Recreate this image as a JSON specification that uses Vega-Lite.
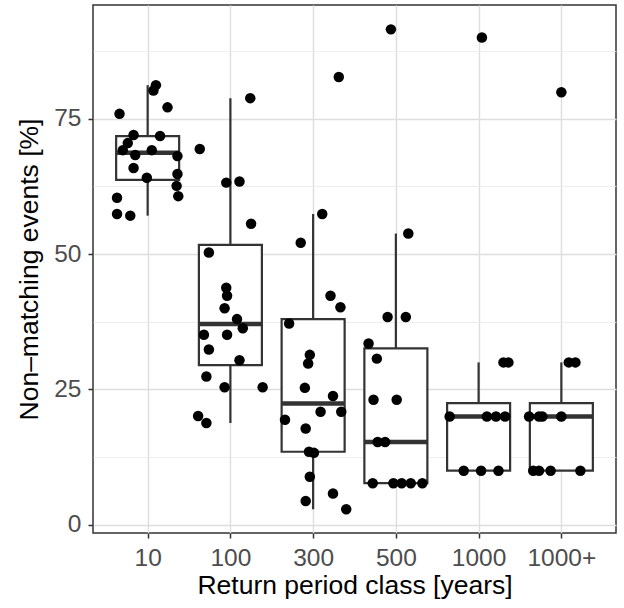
{
  "$schema": "https://vega.github.io/schema/vega-lite/v6.json",
  "width": 523,
  "height": 528,
  "autosize": {"type": "none"},
  "padding": {"left": 93, "top": 5, "right": 8, "bottom": 75},
  "background": "white",
  "config": {
    "view": {"stroke": "#333333", "strokeWidth": 1.5},
    "font": "Liberation Sans",
    "axis": {
      "domain": false,
      "labelFont": "Liberation Sans",
      "titleFont": "Liberation Sans",
      "labelColor": "#4D4D4D",
      "titleColor": "#000000",
      "titleFontWeight": "normal",
      "tickColor": "#333333",
      "tickSize": 5,
      "tickWidth": 1.5,
      "labelFontSize": 24.5,
      "titleFontSize": 26.5,
      "gridColor": "#DEDEDE",
      "gridWidth": 1.4
    }
  },
  "datasets": {
    "box": [
      {"cls": 1, "lo": 57.1, "q1": 63.7, "med": 68.7, "q3": 71.8, "hi": 81.2},
      {"cls": 2, "lo": 18.8, "q1": 29.5, "med": 37.1, "q3": 51.7, "hi": 78.8},
      {"cls": 3, "lo": 2.9, "q1": 13.5, "med": 22.4, "q3": 38.0, "hi": 57.4},
      {"cls": 4, "lo": 7.7, "q1": 7.7, "med": 15.3, "q3": 32.6, "hi": 53.8},
      {"cls": 5, "lo": 10, "q1": 10, "med": 20, "q3": 22.5, "hi": 30},
      {"cls": 6, "lo": 10, "q1": 10, "med": 20, "q3": 22.5, "hi": 30}
    ],
    "pts": [
      {"cls": "10", "jx": 1.10, "v": 81.2},
      {"cls": "10", "jx": 1.07, "v": 80.2},
      {"cls": "10", "jx": 1.24, "v": 77.1},
      {"cls": "10", "jx": 0.66, "v": 75.9},
      {"cls": "10", "jx": 0.83, "v": 72.0},
      {"cls": "10", "jx": 1.15, "v": 71.8},
      {"cls": "10", "jx": 0.76, "v": 70.5},
      {"cls": "10", "jx": 0.70, "v": 69.2},
      {"cls": "10", "jx": 1.05, "v": 69.2},
      {"cls": "10", "jx": 0.85, "v": 68.3},
      {"cls": "10", "jx": 1.36, "v": 68.1},
      {"cls": "10", "jx": 0.83, "v": 65.9},
      {"cls": "10", "jx": 1.36, "v": 64.8},
      {"cls": "10", "jx": 0.99, "v": 64.1},
      {"cls": "10", "jx": 1.35, "v": 62.6},
      {"cls": "10", "jx": 1.37, "v": 60.7},
      {"cls": "10", "jx": 0.63, "v": 60.4},
      {"cls": "10", "jx": 0.63, "v": 57.4},
      {"cls": "10", "jx": 0.79, "v": 57.1},
      {"cls": "100", "jx": 2.24, "v": 78.8},
      {"cls": "100", "jx": 1.63, "v": 69.4},
      {"cls": "100", "jx": 1.95, "v": 63.2},
      {"cls": "100", "jx": 2.11, "v": 63.4},
      {"cls": "100", "jx": 2.25, "v": 55.6},
      {"cls": "100", "jx": 1.74, "v": 50.3},
      {"cls": "100", "jx": 1.95, "v": 43.8},
      {"cls": "100", "jx": 1.96, "v": 42.3},
      {"cls": "100", "jx": 1.93, "v": 40.0},
      {"cls": "100", "jx": 2.08, "v": 38.0},
      {"cls": "100", "jx": 2.15, "v": 36.3},
      {"cls": "100", "jx": 1.68, "v": 35.1},
      {"cls": "100", "jx": 1.96, "v": 35.1},
      {"cls": "100", "jx": 1.74, "v": 32.4},
      {"cls": "100", "jx": 2.11, "v": 30.4},
      {"cls": "100", "jx": 1.71, "v": 27.4},
      {"cls": "100", "jx": 1.93, "v": 25.4},
      {"cls": "100", "jx": 2.39, "v": 25.4},
      {"cls": "100", "jx": 1.61, "v": 20.1},
      {"cls": "100", "jx": 1.71, "v": 18.8},
      {"cls": "300", "jx": 3.31, "v": 82.7},
      {"cls": "300", "jx": 3.11, "v": 57.4},
      {"cls": "300", "jx": 2.85, "v": 52.1},
      {"cls": "300", "jx": 3.21, "v": 42.3},
      {"cls": "300", "jx": 3.33, "v": 40.2},
      {"cls": "300", "jx": 2.71, "v": 37.2},
      {"cls": "300", "jx": 2.96, "v": 31.4},
      {"cls": "300", "jx": 2.94, "v": 29.8},
      {"cls": "300", "jx": 2.90, "v": 25.3},
      {"cls": "300", "jx": 3.24, "v": 23.8},
      {"cls": "300", "jx": 3.09, "v": 20.9},
      {"cls": "300", "jx": 3.34, "v": 20.9},
      {"cls": "300", "jx": 2.66, "v": 19.4},
      {"cls": "300", "jx": 2.91, "v": 17.8},
      {"cls": "300", "jx": 2.95, "v": 13.5},
      {"cls": "300", "jx": 3.01, "v": 13.3},
      {"cls": "300", "jx": 2.96, "v": 8.9},
      {"cls": "300", "jx": 3.24, "v": 5.8},
      {"cls": "300", "jx": 2.91, "v": 4.4},
      {"cls": "300", "jx": 3.40, "v": 2.9},
      {"cls": "500", "jx": 3.94, "v": 91.5},
      {"cls": "500", "jx": 4.15, "v": 53.8},
      {"cls": "500", "jx": 3.90, "v": 38.4},
      {"cls": "500", "jx": 4.12, "v": 38.4},
      {"cls": "500", "jx": 3.67, "v": 33.5},
      {"cls": "500", "jx": 3.77, "v": 30.7},
      {"cls": "500", "jx": 3.73, "v": 23.1},
      {"cls": "500", "jx": 4.01, "v": 23.1},
      {"cls": "500", "jx": 3.78, "v": 15.3},
      {"cls": "500", "jx": 3.87, "v": 15.3},
      {"cls": "500", "jx": 3.72, "v": 7.7},
      {"cls": "500", "jx": 3.97, "v": 7.7},
      {"cls": "500", "jx": 4.07, "v": 7.7},
      {"cls": "500", "jx": 4.18, "v": 7.7},
      {"cls": "500", "jx": 4.32, "v": 7.7},
      {"cls": "1000", "jx": 5.04, "v": 90.0},
      {"cls": "1000", "jx": 5.30, "v": 30},
      {"cls": "1000", "jx": 5.36, "v": 30},
      {"cls": "1000", "jx": 4.65, "v": 20},
      {"cls": "1000", "jx": 5.10, "v": 20},
      {"cls": "1000", "jx": 5.21, "v": 20},
      {"cls": "1000", "jx": 5.32, "v": 20},
      {"cls": "1000", "jx": 4.82, "v": 10},
      {"cls": "1000", "jx": 5.03, "v": 10},
      {"cls": "1000", "jx": 5.24, "v": 10},
      {"cls": "1000+", "jx": 6.00, "v": 79.9},
      {"cls": "1000+", "jx": 6.09, "v": 30},
      {"cls": "1000+", "jx": 6.17, "v": 30},
      {"cls": "1000+", "jx": 5.61, "v": 20},
      {"cls": "1000+", "jx": 5.73, "v": 20},
      {"cls": "1000+", "jx": 5.77, "v": 20},
      {"cls": "1000+", "jx": 6.00, "v": 20},
      {"cls": "1000+", "jx": 5.66, "v": 10},
      {"cls": "1000+", "jx": 5.73, "v": 10},
      {"cls": "1000+", "jx": 5.87, "v": 10},
      {"cls": "1000+", "jx": 6.23, "v": 10}
    ]
  },
  "layer": [
    {
      "data": {"name": "box"},
      "mark": {"type": "rule", "color": "#333333", "strokeWidth": 2.2},
      "encoding": {
        "x": {
          "field": "cls", "type": "quantitative",
          "scale": {"domain": [0.4, 6.6], "nice": false, "zero": false},
          "axis": {
            "title": "Return period class [years]",
            "values": [1, 2, 3, 4, 5, 6],
            "labelExpr": "['', '10', '100', '300', '500', '1000', '1000+'][datum.value]",
            "labelPadding": 8,
            "titlePadding": 3,
            "labelFlush": false,
            "labelOverlap": false
          }
        },
        "y": {
          "field": "lo", "type": "quantitative",
          "scale": {"domain": [-1.5, 96], "nice": false, "zero": false},
          "axis": {
            "title": "Non–matching events [%]",
            "values": [0, 12.5, 25, 37.5, 50, 62.5, 75, 87.5],
            "labelExpr": "datum.value % 25 === 0 ? datum.label : ''",
            "tickOpacity": {"condition": {"test": "datum.value % 25 === 0", "value": 1}, "value": 0},
            "gridWidth": {"condition": {"test": "datum.value % 25 === 0", "value": 1.4}, "value": 0.8},
            "gridColor": {"condition": {"test": "datum.value % 25 === 0", "value": "#DEDEDE"}, "value": "#EAEAEA"},
            "labelPadding": 7,
            "titlePadding": 10,
            "labelFlush": false,
            "labelOverlap": false
          }
        },
        "y2": {"field": "hi"}
      }
    },
    {
      "data": {"name": "box"},
      "mark": {"type": "bar", "width": 63, "fill": "white", "stroke": "#333333", "strokeWidth": 2.2},
      "encoding": {
        "x": {"field": "cls", "type": "quantitative"},
        "y": {"field": "q1", "type": "quantitative"},
        "y2": {"field": "q3"}
      }
    },
    {
      "data": {"name": "box"},
      "mark": {"type": "tick", "orient": "horizontal", "size": 63, "thickness": 4.5, "color": "#333333", "opacity": 1},
      "encoding": {
        "x": {"field": "cls", "type": "quantitative"},
        "y": {"field": "med", "type": "quantitative"}
      }
    },
    {
      "data": {"name": "pts"},
      "mark": {"type": "circle", "size": 110, "color": "#000000", "opacity": 1},
      "encoding": {
        "x": {"field": "jx", "type": "quantitative"},
        "y": {"field": "v", "type": "quantitative"}
      }
    }
  ]
}
